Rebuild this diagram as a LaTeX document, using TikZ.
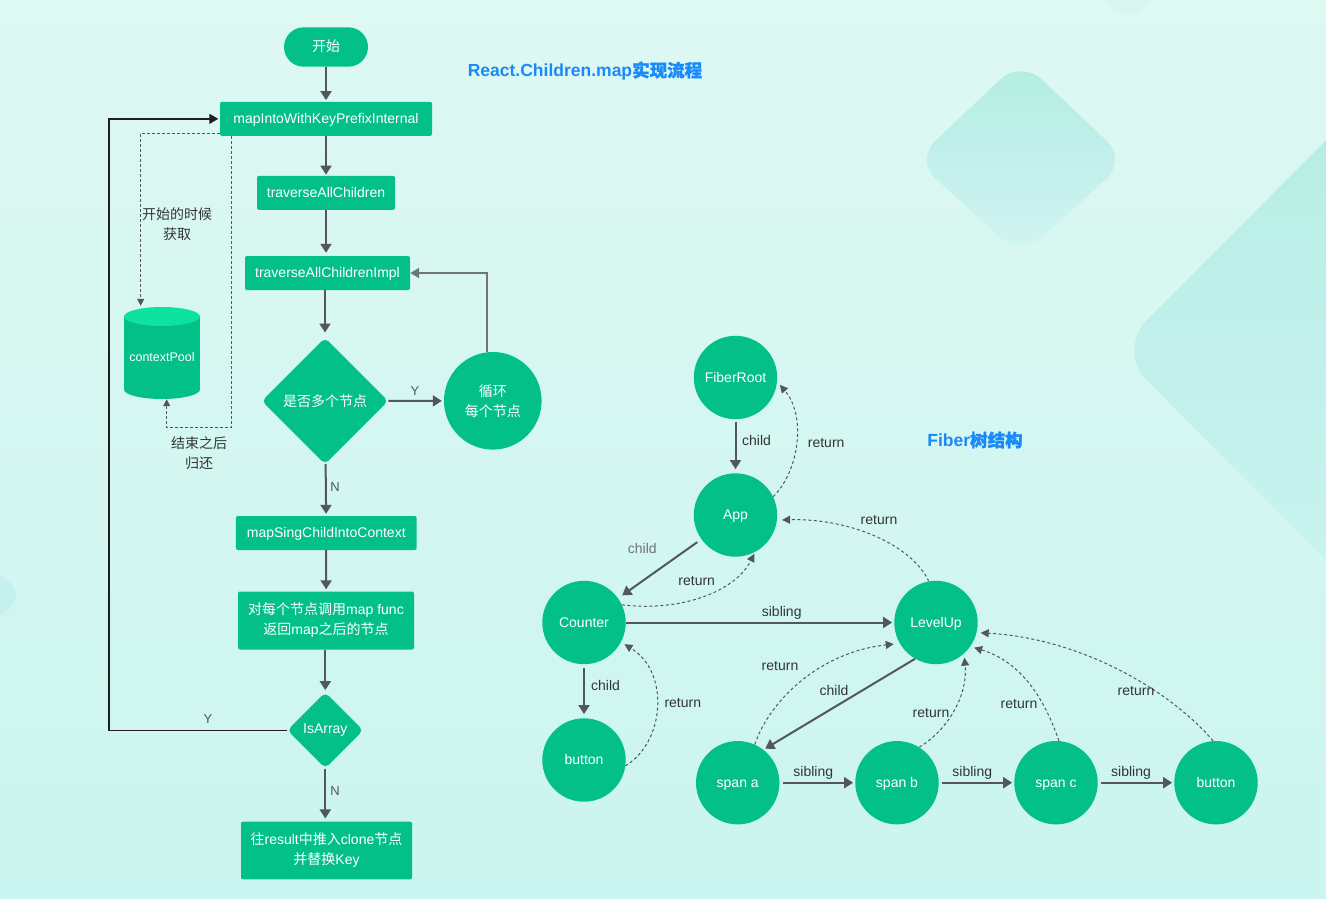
\documentclass[tikz,border=0pt]{standalone}
\usepackage{fontspec}
\setmainfont{Liberation Sans}
\newfontfamily\cjk{Noto Sans CJK SC}
\newfontfamily\cjkb[FakeBold=1.2]{Noto Sans CJK SC}
\usetikzlibrary{arrows.meta,shapes.geometric,calc}
\definecolor{bgtop}{RGB}{222,248,242}
\definecolor{bgbot}{RGB}{203,245,240}
\definecolor{ngreen}{RGB}{3,192,137}
\definecolor{ntop}{RGB}{14,226,160}
\definecolor{arr}{RGB}{82,87,94}
\definecolor{lbl}{RGB}{50,52,56}
\definecolor{ttl}{RGB}{24,138,250}
\definecolor{loopc}{RGB}{110,116,122}
\definecolor{decoa}{RGB}{178,238,224}
\definecolor{decom}{RGB}{194,239,236}
\definecolor{decob}{RGB}{210,245,241}
\definecolor{decol}{RGB}{196,240,237}
\begin{document}
\begin{tikzpicture}[x=1pt,y=-1pt,
  f14/.style={font=\fontsize{14pt}{20pt}\selectfont},
  box/.style={f14, fill=ngreen, rounded corners=2pt, text=white, inner sep=0pt, align=center},
  onel/.style={text height=10pt, text depth=1pt},
  startbox/.style={box, onel, rounded corners=19.7pt, minimum width=84pt, minimum height=39.4pt},
  dia/.style={f14, diamond, aspect=1, fill=ngreen, rounded corners=5pt, text=white, inner sep=0pt},
  circ/.style={f14, circle, fill=ngreen, text=white, inner sep=0pt, align=center},
  fib/.style={circ, minimum size=83.4pt, text height=10pt, text depth=1pt},
  lab/.style={f14, text=lbl, inner sep=1pt, text height=10pt, text depth=0pt},
  ylab/.style={font=\fontsize{13pt}{15pt}\selectfont, text=arr, inner sep=1pt, text height=9pt, text depth=0pt},
  arrowg/.style={draw=arr, line width=2pt, -{Triangle[length=9pt,width=11pt]}},
  ret/.style={draw=arr, line width=1pt, dash pattern=on 3pt off 2.5pt, -{Triangle[length=8pt,width=8pt]}},
  pooldash/.style={draw=arr, line width=0.8pt, dash pattern=on 3pt off 2pt, -{Triangle[length=7pt,width=7pt]}},
  backline/.style={draw=black!88, line width=1.3pt, -{Triangle[length=9pt,width=10pt]}},
  loopline/.style={draw=loopc, line width=1.5pt, -{Triangle[length=9pt,width=10pt]}},
  ttlst/.style={text=ttl, font=\fontsize{17.5pt}{20pt}\selectfont\bfseries, inner sep=0pt}
]
\useasboundingbox (0,0) rectangle (1326,898);
% background
\shade[top color=bgtop, bottom color=bgbot] (0,0) rectangle (1326,898);
\begin{scope}
\clip (0,0) rectangle (1326,898);
\shade[top color=decoa, bottom color=decob, middle color=decom, rounded corners=28pt] (1021,60) -- (1127,160) -- (1021,256) -- (915,160) -- cycle;
\shade[top color=decoa, bottom color=bgbot, middle color=decom, rounded corners=42pt] (1418,48) -- (1720,350) -- (1418,652) -- (1117,350) -- cycle;
\fill[decol, rounded corners=18pt] (-40,540) -- (24,595) -- (-40,650) -- (-104,595) -- cycle;
\fill[decob!60!bgtop, rounded corners=20pt] (1129,-130) -- (1206,-55) -- (1129,22) -- (1052,-55) -- cycle;
\end{scope}

% titles
\node[ttlst] (title1) at (585,71) {React.Children.map{\cjkb 实现流程}};
\node[ttlst] (title2) at (975,440) {Fiber{\cjkb 树结构}};

% ---------- flowchart ----------
\node[startbox] (st) at (326,47) {{\cjk 开始}};
\node[box, onel, minimum width=212pt, minimum height=34pt] (m1) at (326,118.85) {mapIntoWithKeyPrefixInternal};
\node[box, onel, minimum width=138pt, minimum height=34pt] (t1) at (326,192.85) {traverseAllChildren};
\node[box, onel, minimum width=165pt, minimum height=34pt] (t2) at (327.5,273) {traverseAllChildrenImpl};
\node[dia, minimum width=126.6pt, minimum height=126.6pt] (multi) at (325,401) {{\cjk 是否多个节点}};
\node[circ, minimum size=97.6pt] (loop) at (492.8,400.8) {{\cjk 循环}\\{\cjk 每个节点}};
\node[box, onel, minimum width=180.7pt, minimum height=34pt] (m2) at (326.3,533) {mapSingChildIntoContext};
\node[box, minimum width=176pt, minimum height=58pt] (fn) at (326,620.5) {{\cjk 对每个节点调用}map func\\{\cjk 返回}map{\cjk 之后的节点}};
\node[dia, minimum width=76pt, minimum height=76pt] (isarr) at (325.3,730.3) {IsArray};
\node[box, minimum width=171pt, minimum height=57.7pt] (res) at (326.5,850.5) {{\cjk 往}result{\cjk 中推入}clone{\cjk 节点}\\{\cjk 并替换}Key};

% cylinder
\fill[ngreen] (124,316.5) rectangle (200,389.5);
\fill[ngreen] (162,389.5) ellipse [x radius=38pt, y radius=9.5pt];
\fill[ntop] (162,316.5) ellipse [x radius=38pt, y radius=9.5pt];
\node[font=\fontsize{12.5pt}{14pt}\selectfont, text=white, minimum width=76pt, minimum height=92pt, inner sep=0pt, text height=9pt, text depth=0pt] (pool) at (162,357) {contextPool};

% flow arrows
\draw[arrowg, shorten >=1.5pt] (st) -- (m1);
\draw[arrowg, shorten >=1pt] (m1) -- (t1);
\draw[arrowg, shorten >=3pt] (t1) -- (t2.north -| t1.south);
\draw[arrowg, shorten >=5pt] (t2.south -| multi.north) -- (multi);
\draw[arrowg, shorten >=2pt] (multi) -- (loop);
\draw[arrowg, shorten >=2pt] (multi) -- (m2);
\draw[arrowg, shorten >=2pt] (m2) -- (fn);
\draw[arrowg, shorten >=2pt] (fn.south -| isarr.north) -- (isarr);
\draw[arrowg, shorten >=3pt] (isarr) -- (res.north -| isarr.south);
\draw[loopline] ([xshift=-6pt]loop.north) |- (t2.east);
\draw[backline, shorten >=1.5pt] (isarr.west) -- ++(-178,0) |- (m1.west);
\draw[pooldash] ([yshift=2.7pt]m1.south west) -| ([xshift=-21.3pt,yshift=5pt]pool.north);
\draw[pooldash] ([xshift=11.7pt]m1.south west) -- ++(0,291.6) -| ([xshift=4.7pt,yshift=4pt]pool.south);

% flow labels
\node[ylab] (yl1) at (415,391) {Y};
\node[ylab] (nl1) at (335,487) {N};
\node[ylab] (yl2) at (208,719) {Y};
\node[ylab] (nl2) at (335,791) {N};
\node[f14, text=lbl, align=center, inner sep=0pt] (getl) at (177,224) {{\cjk 开始的时候}\\{\cjk 获取}};
\node[f14, text=lbl, align=center, inner sep=0pt] (backl) at (199,453) {{\cjk 结束之后}\\{\cjk 归还}};

% ---------- fiber tree ----------
\node[fib] (FR) at (735.5,377.5) {FiberRoot};
\node[fib] (App) at (735.5,515) {App};
\node[fib] (Counter) at (584,622.5) {Counter};
\node[fib] (btn1) at (584,760) {button};
\node[fib] (LevelUp) at (936,622.5) {LevelUp};
\node[fib] (spana) at (737.7,782.7) {span a};
\node[fib] (spanb) at (897,782.7) {span b};
\node[fib] (spanc) at (1056,782.7) {span c};
\node[fib] (btn2) at (1216,782.7) {button};

% child / sibling
\draw[arrowg, shorten <=3pt, shorten >=4pt] (FR) -- (App);
\draw[arrowg, shorten <=5pt, shorten >=5pt] (App) -- (Counter);
\draw[arrowg, shorten >=2pt] (Counter) -- (LevelUp);
\draw[arrowg, shorten <=4pt, shorten >=4pt] (Counter) -- (btn1);
\draw[arrowg, shorten >=2pt] (LevelUp.240) -- (spana.52);
\draw[arrowg, shorten <=3pt, shorten >=2pt] (spana) -- (spanb);
\draw[arrowg, shorten <=3pt, shorten >=2pt] (spanb) -- (spanc);
\draw[arrowg, shorten <=3pt, shorten >=2pt] (spanc) -- (btn2);

% returns
\draw[ret, shorten >=4pt] (App.26) .. controls (800,470) and (806,415) .. (FR.-6);
\draw[ret, shorten >=2pt] (Counter.25) .. controls (680,612) and (735,592) .. (App.-62);
\draw[ret, shorten >=4pt] (btn1.-8) .. controls (665,742) and (670,672) .. (Counter.-28);
\draw[ret, shorten >=5pt] (LevelUp.100) .. controls (912,545) and (850,518) .. (App.-7);
\draw[ret, shorten >=6pt] (spana.66) .. controls (770,700) and (820,652) .. (LevelUp.-150);
\draw[ret, shorten >=4pt] (spanb.58) .. controls (948,730) and (968,695) .. (LevelUp.-48);
\draw[ret, shorten >=4pt] (spanc.86) .. controls (1045,700) and (1022,662) .. (LevelUp.-35);
\draw[ret, shorten >=4pt] (btn2.94) .. controls (1170,690) and (1080,638) .. (LevelUp.-14);

% edge labels
\node[lab, anchor=west] (lc1) at (741,440) {child};
\node[lab, anchor=west] (lr1) at (806.7,442) {return};
\node[lab, text=black!55] (lc2) at (642.3,548.3) {child};
\node[lab] (lr2) at (696.7,580) {return};
\node[lab] (ls1) at (781.7,611.7) {sibling};
\node[lab] (lr4) at (879,519) {return};
\node[lab, anchor=west] (lc3) at (590,685) {child};
\node[lab, anchor=west] (lr3) at (663.3,702.3) {return};
\node[lab] (lc4) at (834,690) {child};
\node[lab] (lr5) at (780,665.7) {return};
\node[lab] (lr6) at (931,712.7) {return};
\node[lab] (lr7) at (1019,703.3) {return};
\node[lab] (lr8) at (1136,690.7) {return};
\node[lab] (ls2) at (813.3,771) {sibling};
\node[lab] (ls3) at (972.3,771) {sibling};
\node[lab] (ls4) at (1131,771) {sibling};
\end{tikzpicture}
\end{document}
